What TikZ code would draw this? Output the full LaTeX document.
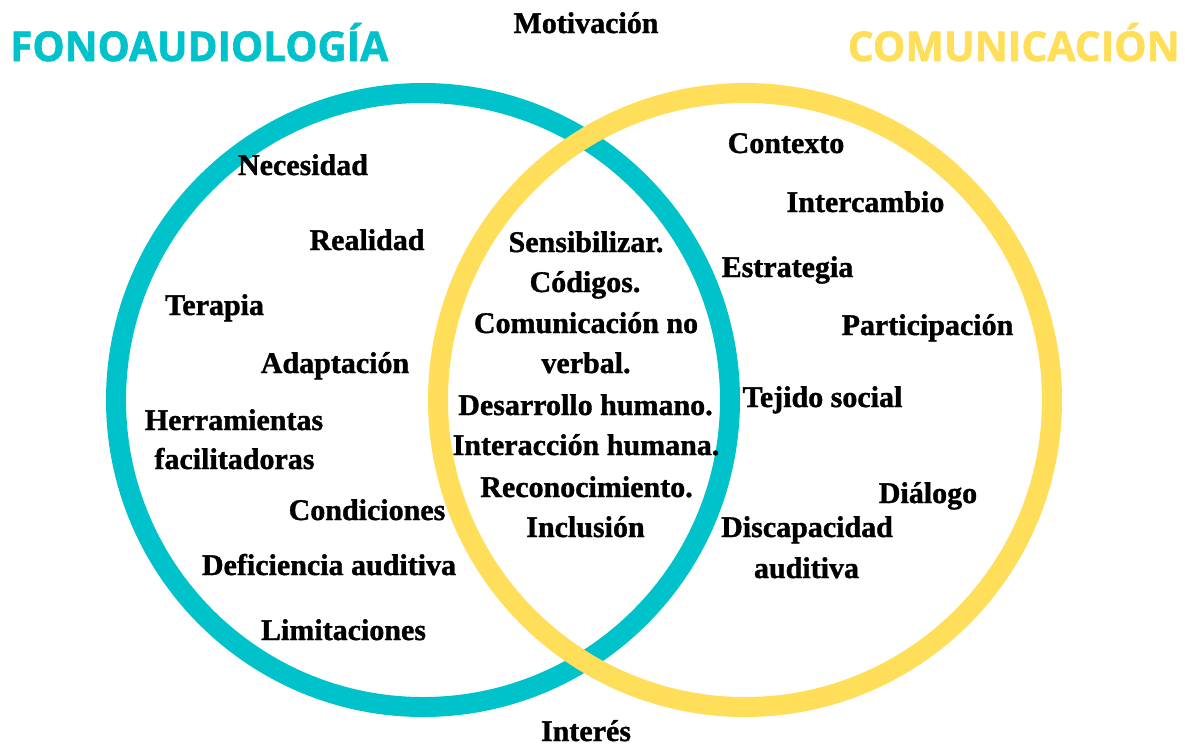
\documentclass[tikz,border=0pt]{standalone}
\usepackage{fontspec}
\usepackage{graphicx}
\setmainfont{Liberation Serif}[BoldFeatures={FakeBold=1.2}]
\newfontfamily\hdrfont{Open Sans}[BoldFeatures={FakeBold=1.5}]
\definecolor{tealring}{HTML}{00C2CB}
\definecolor{goldring}{HTML}{FFDE59}
\begin{document}
\begin{tikzpicture}[x=1pt,y=-1pt,
  lbl/.style={font=\fontsize{30}{36}\selectfont\bfseries, anchor=base, inner sep=0pt},
  ring/.style={line width=20pt},
  hdr/.style={inner sep=0pt}]
\useasboundingbox (0,0) rectangle (1185,748);
% circles
\draw[ring, tealring] (423,400) circle[radius=307];
\draw[ring, goldring] (745,400) circle[radius=307];
% headers
\node[hdr, anchor=base west, text=tealring] (hfono) at (10,61)
  {\resizebox{378pt}{\height}{\hdrfont\bfseries\fontsize{41}{41}\selectfont FONOAUDIOLOGÍA}};
\node[hdr, anchor=base east, text=goldring] (hcom) at (1180,61)
  {\resizebox{332pt}{\height}{\hdrfont\bfseries\fontsize{41}{41}\selectfont COMUNICACIÓN}};
% top / bottom
\node[lbl] (motiv) at (586,33) {Motivación};
\node[lbl] (inter) at (586,741) {Interés};
% left
\node[lbl] (neces) at (303,175) {Necesidad};
\node[lbl] (reali) at (367,250) {Realidad};
\node[lbl] (terap) at (214.5,315) {Terapia};
\node[lbl] (adapt) at (335,373) {Adaptación};
\node[lbl] (herra) at (234,430) {Herramientas};
\node[lbl] (facil) at (234.5,469) {facilitadoras};
\node[lbl] (condi) at (367,520) {Condiciones};
\node[lbl] (defic) at (329,575) {Deficiencia auditiva};
\node[lbl] (limit) at (343.5,640) {Limitaciones};
% centre
\node[lbl] (c1) at (586,252) {Sensibilizar.};
\node[lbl] (c2) at (585,292) {Códigos.};
\node[lbl] (c3) at (586,333) {Comunicación no};
\node[lbl] (c4) at (586,373) {verbal.};
\node[lbl] (c5) at (585.5,415) {Desarrollo humano.};
\node[lbl] (c6) at (586,455) {Interacción humana.};
\node[lbl] (c7) at (586.5,497) {Reconocimiento.};
\node[lbl] (c8) at (585.5,537) {Inclusión};
% right
\node[lbl] (conte) at (786,153) {Contexto};
\node[lbl] (inter2) at (865.5,212) {Intercambio};
\node[lbl] (estra) at (787.5,277) {Estrategia};
\node[lbl] (parti) at (927.5,335) {Participación};
\node[lbl] (tejid) at (822.5,407) {Tejido social};
\node[lbl] (dialo) at (928,503) {Diálogo};
\node[lbl] (disca) at (807,537) {Discapacidad};
\node[lbl] (audit) at (806.5,578) {auditiva};
\end{tikzpicture}
\end{document}
